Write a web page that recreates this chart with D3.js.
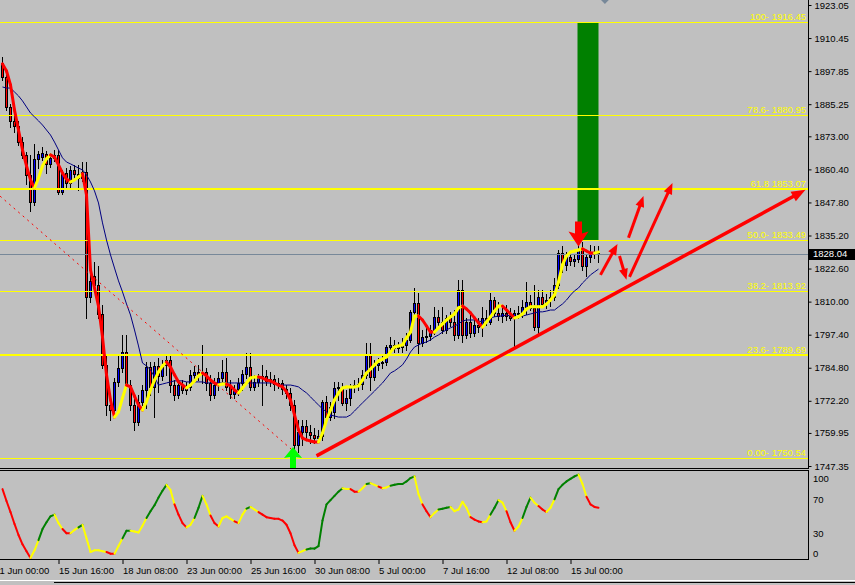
<!DOCTYPE html>
<html>
<head>
<meta charset="utf-8">
<script src="https://d3js.org/d3.v7.min.js"></script>
<style>
html,body{margin:0;padding:0;background:#c0c0c0;overflow:hidden;}
svg{display:block;}
text{font-family:"Liberation Sans",Arial,sans-serif;}
</style>
</head>
<body>
<svg id="chart" width="855" height="585"></svg>
<script>
// ---------- DATA (XAUUSD H4) ----------
const openP = [
1901.0,1895.6,1884.2,1878.9,1876.9,1870.8,1865.9,1858.3,1848.0,1864.4,
1865.1,1866.3,1862.5,1864.8,1865.9,1851.8,1859.0,1855.2,1860.2,1858.7,
1857.1,1859.4,1811.8,1819.8,1816.4,1805.3,1785.9,1770.6,1768.7,1779.4,
1784.7,1790.8,1778.2,1770.6,1764.1,1771.8,1776.3,1785.1,1777.5,1785.5,
1781.7,1785.9,1787.8,1778.2,1774.4,1778.2,1776.3,1777.5,1782.1,1783.2,
1782.4,1783.2,1779.0,1774.4,1778.2,1780.9,1783.2,1777.5,1774.8,1776.7,
1779.0,1782.4,1785.1,1777.5,1779.4,1780.9,1781.7,1779.8,1780.5,1778.6,
1779.0,1776.7,1775.2,1770.6,1755.4,1760.3,1762.6,1760.3,1759.2,1758.0,
1758.8,1771.8,1766.0,1768.0,1777.1,1777.5,1771.4,1773.3,1777.5,1778.2,
1778.6,1782.1,1789.7,1781.3,1785.9,1786.6,1787.0,1792.7,1793.5,1792.3,
1792.7,1793.5,1795.4,1806.1,1809.5,1794.2,1796.5,1796.9,1799.2,1804.2,
1802.3,1799.2,1803.8,1802.3,1797.3,1814.4,1797.3,1802.3,1798.1,1801.1,
1800.3,1803.8,1802.3,1810.6,1805.7,1804.5,1805.7,1804.5,1803.8,1805.7,
1805.3,1808.0,1809.9,1807.6,1800.3,1811.8,1809.1,1810.6,1811.8,1816.4,
1828.5,1824.0,1827.0,1825.5,1826.3,1830.1,1823.6,1827.0,1828.9,1828.5];
const highP = [
1903.2,1896.4,1885.3,1881.1,1878.9,1872.8,1867.0,1865.9,1870.1,1867.4,
1868.9,1867.4,1866.6,1867.8,1867.8,1860.2,1860.9,1861.7,1862.1,1862.1,
1863.2,1863.2,1821.3,1825.1,1823.6,1808.7,1789.7,1774.4,1780.9,1789.7,
1797.3,1797.3,1780.1,1773.3,1774.4,1778.2,1787.0,1787.0,1787.0,1788.5,
1787.8,1789.7,1789.7,1780.1,1780.1,1780.1,1779.4,1784.0,1785.5,1785.9,
1793.5,1784.7,1782.1,1780.9,1783.2,1787.8,1788.5,1780.1,1778.2,1780.9,
1784.0,1790.4,1790.4,1782.1,1782.4,1785.9,1784.0,1783.2,1782.1,1780.9,
1780.1,1778.2,1777.1,1772.5,1764.9,1764.9,1764.9,1763.0,1761.9,1761.1,
1772.5,1774.0,1771.8,1779.4,1779.4,1779.0,1776.3,1778.6,1780.1,1780.9,
1784.0,1794.2,1794.2,1787.8,1788.5,1789.3,1793.5,1796.5,1795.4,1794.6,
1796.2,1798.1,1806.8,1815.2,1813.3,1799.2,1800.0,1801.1,1808.0,1806.8,
1808.0,1804.9,1806.1,1806.8,1818.3,1818.3,1803.8,1804.9,1803.8,1803.8,
1808.0,1806.8,1813.3,1811.8,1809.9,1808.7,1808.7,1807.6,1806.8,1808.3,
1810.6,1817.5,1812.5,1816.4,1814.4,1814.4,1812.9,1814.4,1819.0,1829.7,
1831.2,1828.9,1828.9,1827.8,1832.7,1832.7,1827.8,1831.6,1831.2,1831.2];
const lowP = [
1894.5,1883.0,1876.6,1874.7,1869.7,1864.8,1854.8,1844.6,1846.8,1860.9,
1864.0,1859.0,1861.3,1863.6,1851.0,1851.0,1852.9,1853.3,1856.7,1852.6,
1856.0,1803.8,1809.9,1814.1,1803.8,1784.7,1766.8,1764.9,1767.2,1777.9,
1783.2,1777.1,1768.7,1761.1,1763.0,1770.6,1769.5,1774.4,1766.0,1775.6,
1780.1,1782.1,1775.6,1772.5,1773.3,1775.2,1774.8,1776.3,1780.9,1780.1,
1779.0,1776.3,1772.5,1773.3,1776.3,1779.4,1776.3,1773.3,1773.3,1774.4,
1776.3,1780.9,1776.3,1776.3,1777.9,1770.6,1778.2,1777.9,1776.3,1777.1,
1774.8,1773.3,1768.7,1752.7,1752.7,1755.4,1757.3,1756.1,1756.1,1756.5,
1757.3,1765.3,1764.9,1765.7,1772.5,1770.6,1768.7,1770.6,1775.6,1776.3,
1776.7,1780.9,1776.3,1780.1,1784.0,1784.7,1785.9,1789.7,1790.8,1790.8,
1790.8,1791.6,1794.6,1804.5,1790.4,1793.1,1794.6,1795.4,1797.7,1800.7,
1798.1,1798.1,1800.7,1795.4,1796.2,1794.6,1796.2,1796.5,1796.9,1798.4,
1796.9,1801.1,1801.5,1804.5,1803.0,1802.3,1803.0,1803.0,1792.7,1803.8,
1804.2,1805.3,1806.8,1799.2,1798.1,1808.0,1807.6,1808.3,1810.6,1815.2,
1821.3,1822.1,1824.0,1823.6,1825.1,1822.1,1819.8,1825.1,1826.6,1825.1];
const closeP = [
1895.6,1884.2,1878.9,1876.9,1870.8,1865.9,1858.3,1848.0,1864.4,1866.3,
1866.6,1862.5,1864.8,1865.9,1851.8,1859.0,1855.2,1860.2,1858.7,1857.1,
1859.4,1811.8,1817.9,1816.4,1805.3,1785.9,1770.6,1768.7,1779.4,1784.7,
1790.8,1778.2,1770.6,1764.1,1771.8,1776.3,1785.1,1777.5,1785.5,1781.7,
1785.9,1787.8,1778.2,1774.4,1778.2,1776.3,1777.5,1782.1,1783.2,1782.4,
1783.2,1779.0,1774.4,1778.2,1780.9,1783.2,1777.5,1774.8,1776.7,1779.0,
1782.4,1785.1,1777.5,1779.4,1780.9,1781.7,1779.8,1780.5,1778.6,1779.0,
1776.7,1775.2,1770.6,1755.4,1760.3,1762.6,1760.3,1759.2,1758.0,1758.8,
1771.8,1766.0,1769.9,1777.1,1777.5,1771.4,1773.3,1777.5,1778.2,1778.6,
1782.1,1789.7,1781.3,1785.9,1786.6,1787.0,1792.7,1793.5,1792.3,1792.7,
1793.5,1795.4,1806.1,1809.5,1794.2,1796.5,1796.9,1799.2,1804.2,1802.3,
1799.2,1803.8,1802.3,1797.3,1814.4,1797.3,1802.3,1798.1,1801.1,1800.3,
1803.8,1802.3,1810.6,1805.7,1804.5,1805.7,1804.5,1803.8,1805.7,1805.3,
1808.0,1809.9,1807.6,1800.3,1811.8,1809.1,1810.6,1811.8,1816.4,1828.5,
1824.0,1827.0,1825.5,1826.3,1830.1,1823.6,1827.0,1828.9,1828.5,1828.04];
// fast smoothed MA (yellow rising / red falling)
const fastMA = [
1900.6,1897.9,1892.6,1883.0,1875.4,1867.8,1861.7,1856.4,1853.3,1857.1,
1861.7,1864.4,1865.9,1865.1,1862.1,1859.0,1856.7,1855.6,1856.4,1857.5,
1858.7,1850.6,1822.1,1815.2,1808.3,1796.5,1782.1,1772.5,1766.0,1768.0,
1773.3,1778.2,1777.5,1774.0,1770.6,1768.7,1771.8,1776.3,1780.1,1783.2,
1785.5,1787.0,1785.1,1782.1,1779.4,1778.2,1777.1,1778.2,1779.8,1781.7,
1782.8,1781.7,1780.1,1779.0,1778.2,1778.6,1778.6,1777.9,1776.3,1775.2,
1777.1,1779.0,1780.9,1781.3,1781.3,1780.9,1780.1,1779.8,1779.0,1778.2,
1777.5,1775.6,1772.5,1766.8,1761.1,1758.0,1757.3,1756.9,1756.5,1756.5,
1759.9,1764.9,1768.7,1772.5,1775.2,1777.1,1777.5,1777.5,1777.5,1777.9,
1780.1,1782.8,1784.3,1785.9,1787.4,1788.1,1788.9,1790.8,1792.7,1793.1,
1793.5,1796.2,1798.4,1804.5,1804.5,1803.0,1800.7,1798.4,1798.4,1800.0,
1801.5,1803.0,1804.2,1805.3,1807.6,1808.3,1807.2,1805.7,1803.8,1801.9,
1800.3,1802.3,1804.2,1806.4,1808.3,1808.3,1806.8,1805.3,1803.8,1804.2,
1805.3,1807.2,1808.0,1808.0,1808.0,1808.0,1809.1,1810.6,1812.5,1817.5,
1824.0,1827.4,1828.9,1829.3,1829.7,1830.1,1829.3,1828.5,1828.5,1828.9];
// slow moving average (navy)
const slowMA = [
1891.8,1891.4,1891.4,1889.9,1888.4,1886.5,1884.2,1881.9,1880.4,1878.9,
1877.3,1875.4,1873.5,1870.8,1867.8,1864.8,1863.2,1862.5,1861.7,1860.9,
1860.2,1858.3,1855.6,1852.2,1847.6,1840.0,1833.5,1827.8,1822.8,1817.9,
1813.7,1809.1,1804.9,1799.2,1793.1,1786.6,1785.5,1784.0,1781.3,1778.2,
1778.6,1779.0,1779.4,1779.8,1779.8,1779.8,1779.4,1779.4,1779.4,1779.4,
1779.4,1779.0,1779.0,1779.0,1779.0,1779.0,1779.0,1779.0,1779.0,1779.0,
1779.0,1779.0,1779.0,1779.0,1779.0,1779.0,1779.0,1779.0,1779.0,1778.2,
1778.2,1778.2,1778.2,1777.9,1777.5,1776.3,1775.2,1773.7,1772.1,1770.6,
1769.1,1768.0,1766.8,1766.4,1766.0,1766.0,1766.0,1766.8,1768.3,1769.9,
1771.4,1772.9,1774.4,1775.9,1777.5,1779.0,1780.9,1782.8,1783.6,1784.7,
1785.9,1788.1,1790.8,1792.7,1793.5,1794.2,1794.6,1795.4,1796.5,1797.3,
1798.4,1799.2,1800.0,1800.7,1801.5,1802.6,1803.0,1803.0,1803.0,1802.6,
1802.3,1803.0,1803.8,1804.2,1804.5,1804.5,1804.9,1804.5,1804.2,1804.2,
1804.5,1804.9,1805.3,1805.7,1806.1,1806.1,1806.4,1806.8,1806.8,1808.0,
1809.1,1810.6,1812.5,1814.1,1815.2,1817.1,1818.6,1820.2,1821.3,1822.4];
// oscillator (0-100)
const oscValues = [
82,68,55,41,28,17,9,1,10,22,
35,43,50,52,42,35,30,30,34,37,
40,24,8,10,10,9,8,6,6,15,
24,33,33,32,31,39,48,56,63,72,
80,87,81,64,52,42,37,40,48,60,
74,64,51,42,38,48,50,47,44,42,
52,59,61,58,55,52,49,48,47,47,
45,40,30,16,7,9,11,12,12,15,
45,64,69,74,79,83,82,82,79,79,
83,88,89,87,85,83,84,86,87,88,
88,91,95,97,76,64,56,49,54,58,
59,60,61,56,58,67,60,49,46,44,
43,44,52,60,69,66,56,43,33,38,
48,61,72,66,62,58,55,60,70,82,
87,91,94,97,99,88,73,64,61,60];

const fibPrices = [1916.45,1880.95,1853.07,1833.49,1813.92,1789.69,1750.54];
const fibLabels = ["100- 1916.45","78.6- 1880.95","61.8 1853.07","50.0- 1833.49","38.2- 1813.92","23.6- 1789.69","0.00- 1750.54"];
const fibBold = [false,false,true,false,false,true,false];
const priceTicks = [1923.05,1910.45,1897.85,1885.25,1873.00,1860.40,1847.80,1835.20,1822.60,1810.00,1797.40,1784.80,1772.20,1759.95,1747.35];
const timeTickBars = [-2,14,30,46,62,78,94,110,126,142];
const timeTickLabels = ["11 Jun 00:00","15 Jun 16:00","18 Jun 08:00","23 Jun 00:00","25 Jun 16:00","30 Jun 08:00","5 Jul 00:00","7 Jul 16:00","12 Jul 08:00","15 Jul 00:00"];
const oscTicks = [100,70,30,0];
const lastPrice = 1828.04;
// annotations (bar index, price)
const dottedLine = [[-0.6,1850.2],[73,1752.7]];
const trendLine = [[78.5,1751.2],[200.75,1852.6]];
const arrowStarts = [[149.5,1820.2],[154.25,1827.4],[156.75,1819.4],[156.5,1834.3]];
const arrowEnds   = [[153.75,1832.0],[156.0,1818.3],[167.5,1855.2],[160.25,1850.3]];
const targetBox = {bar0:144, bar1:149, p0:1916.45, p1:1833.49};
const sellSignal = [144, 1831.0];
const buySignal = [73, 1754.6];
const fibAnchor = [150.6, 1925.0];

// ---------- CHART ----------
const W = 855, H = 585, AX = 808;
const svg = d3.select("#chart");
svg.append("rect").attr("width",W).attr("height",H).attr("fill","#c0c0c0");

const x = d3.scaleLinear().domain([0,149]).range([2.5,598.5]);
const y = d3.scaleLinear().domain([1747.35,1923.05]).range([466,5]);
const yo = d3.scaleLinear().domain([0,100]).range([558.8,473.8]);

const defs = svg.append("defs");
defs.append("clipPath").attr("id","cMain").append("rect").attr("x",0).attr("y",0).attr("width",AX).attr("height",468);
defs.append("clipPath").attr("id","cOsc").append("rect").attr("x",0).attr("y",471).attr("width",AX).attr("height",88);

const main = svg.append("g").attr("clip-path","url(#cMain)");
const idx = d3.range(closeP.length);

// target box
main.append("rect")
  .attr("x", x(targetBox.bar0)-1).attr("width", x(targetBox.bar1)-x(targetBox.bar0)+1)
  .attr("y", y(targetBox.p0)).attr("height", y(targetBox.p1)-y(targetBox.p0))
  .attr("fill","#008000");

// candles
main.append("g").selectAll("line").data(idx).join("line")
  .attr("x1",i=>x(i)).attr("x2",i=>x(i))
  .attr("y1",i=>Math.round(y(highP[i]))).attr("y2",i=>Math.round(y(lowP[i]))+1)
  .attr("stroke","#000").attr("stroke-width",1);
const bodies = main.append("g");
idx.forEach(i=>{
  const top = Math.round(y(Math.max(openP[i],closeP[i])));
  const bot = Math.round(y(Math.min(openP[i],closeP[i])));
  const h = Math.max(1, bot-top+1);
  bodies.append("rect").attr("x",x(i)-1.5).attr("width",3).attr("y",top).attr("height",h).attr("fill","#000");
  if (h>2) bodies.append("rect").attr("x",x(i)-0.5).attr("width",1).attr("y",top+1).attr("height",h-2)
    .attr("fill", closeP[i]>=openP[i] ? "#0000ff" : "#ff0000");
});

// fib lines
main.append("g").selectAll("line").data(fibPrices).join("line")
  .attr("x1",0).attr("x2",AX)
  .attr("y1",(d,i)=>Math.round(y(d))+(fibBold[i]?0:0.5)).attr("y2",(d,i)=>Math.round(y(d))+(fibBold[i]?0:0.5))
  .attr("stroke","#ffff00").attr("stroke-width",(d,i)=>fibBold[i]?2:1);

// last price line
main.append("line").attr("x1",0).attr("x2",AX)
  .attr("y1",Math.round(y(lastPrice))+0.5).attr("y2",Math.round(y(lastPrice))+0.5)
  .attr("stroke","#778899").attr("stroke-width",1);

// slow MA
main.append("path").datum(idx)
  .attr("d", d3.line().x(i=>x(i)).y(i=>y(slowMA[i])))
  .attr("fill","none").attr("stroke","#000080").attr("stroke-width",1);

// fast MA, coloured by direction
let prevCol = "#ffff00";
const fastG = main.append("g");
for (let i=1;i<fastMA.length;i++){
  let col = fastMA[i]>fastMA[i-1] ? "#ffff00" : (fastMA[i]<fastMA[i-1] ? "#ff0000" : prevCol);
  prevCol = col;
  fastG.append("line").attr("x1",x(i-1)).attr("y1",y(fastMA[i-1])).attr("x2",x(i)).attr("y2",y(fastMA[i]))
    .attr("stroke",col).attr("stroke-width",3).attr("stroke-linecap","round");
}

// dotted trend line
main.append("line")
  .attr("x1",x(dottedLine[0][0])).attr("y1",y(dottedLine[0][1]))
  .attr("x2",x(dottedLine[1][0])).attr("y2",y(dottedLine[1][1]))
  .attr("stroke","#ff0000").attr("stroke-width",1).attr("stroke-dasharray","2,4");

// arrows
function arrow(g,x1,y1,x2,y2,w,hl,hw,col){
  const dx=x2-x1, dy=y2-y1, L=Math.hypot(dx,dy), ux=dx/L, uy=dy/L;
  const bx=x2-ux*hl, by=y2-uy*hl, px=-uy, py=ux;
  g.append("line").attr("x1",x1).attr("y1",y1).attr("x2",bx+ux).attr("y2",by+uy)
    .attr("stroke",col).attr("stroke-width",w);
  g.append("path").attr("d",`M${x2},${y2}L${bx+px*hw/2},${by+py*hw/2}L${bx-px*hw/2},${by-py*hw/2}Z`).attr("fill",col);
}
const ann = svg.append("g").attr("clip-path","url(#cMain)");
arrow(ann, x(trendLine[0][0]), y(trendLine[0][1]), x(trendLine[1][0]), y(trendLine[1][1]), 3.5, 14, 11, "#ff0000");
arrowStarts.forEach((s,k)=>{
  const e = arrowEnds[k];
  arrow(ann, x(s[0]), y(s[1]), x(e[0]), y(e[1]), 3, 11, 9, "#ff0000");
});

// sell arrow (down)
{
  const cx = x(sellSignal[0]), ty = y(sellSignal[1]);
  ann.append("path").attr("fill","#ff0000")
    .attr("d",`M${cx-3.5},${ty-25}H${cx+3.5}V${ty-13}L${cx+10},${ty-15}L${cx},${ty}L${cx-10},${ty-15}L${cx-3.5},${ty-13}Z`);
}
// buy arrow (up)
{
  const cx = x(buySignal[0])-1.5, ty = y(buySignal[1]);
  ann.append("path").attr("fill","#00ff00")
    .attr("d",`M${cx},${ty}L${cx+9},${ty+11}L${cx+3},${ty+10}V${ty+22}H${cx-3}V${ty+10}L${cx-9},${ty+11}Z`);
}
// fib anchor diamond
{
  const cx = x(fibAnchor[0]), cy = y(fibAnchor[1]);
  ann.append("path").attr("fill","#778899").attr("d",`M${cx},${cy-4}L${cx+4},${cy}L${cx},${cy+4}L${cx-4},${cy}Z`);
}

// fib labels
svg.append("g").selectAll("text").data(fibPrices).join("text")
  .attr("x",806).attr("y",d=>Math.round(y(d))-2).attr("text-anchor","end")
  .attr("font-size",9.5).attr("fill","#ffff00").text((d,i)=>fibLabels[i]);

// ---------- oscillator ----------
const osc = svg.append("g").attr("clip-path","url(#cOsc)");
const dirs = [0];
for (let i=1;i<oscValues.length;i++){
  const d = oscValues[i]>oscValues[i-1]?1:(oscValues[i]<oscValues[i-1]?-1:dirs[i-1]);
  dirs.push(d);
}
for (let i=1;i<oscValues.length;i++){
  const turn = (i>=2 && dirs[i]!==dirs[i-1]) || (i>=3 && dirs[i]!==dirs[i-2]);
  const col = turn ? "#ffff00" : (dirs[i]>0 ? "#008000" : "#ff0000");
  osc.append("line").attr("x1",x(i-1)).attr("y1",yo(oscValues[i-1])).attr("x2",x(i)).attr("y2",yo(oscValues[i]))
    .attr("stroke",col).attr("stroke-width",2).attr("stroke-linecap","round");
}

// ---------- frames ----------
const fr = svg.append("g").attr("stroke","#000").attr("stroke-width",1);
fr.append("line").attr("x1",0).attr("x2",AX+1).attr("y1",468.5).attr("y2",468.5);
fr.append("line").attr("x1",0).attr("x2",AX+1).attr("y1",470.5).attr("y2",470.5);
fr.append("line").attr("x1",0).attr("x2",AX+1).attr("y1",559.5).attr("y2",559.5);
fr.append("line").attr("x1",AX+0.5).attr("x2",AX+0.5).attr("y1",0).attr("y2",469);
fr.append("line").attr("x1",AX+0.5).attr("x2",AX+0.5).attr("y1",470).attr("y2",560);
svg.append("rect").attr("x",0).attr("y",580).attr("width",W).attr("height",1).attr("fill","#ffffff");
svg.append("rect").attr("x",54).attr("y",582).attr("width",W-54).attr("height",1).attr("fill","#000");

// ---------- price axis ----------
const yAxis = d3.axisRight(y).tickValues(priceTicks).tickFormat(d3.format(".2f"))
  .tickSizeInner(3).tickSizeOuter(0).tickPadding(3);
const ya = svg.append("g").attr("transform",`translate(${AX+0.5},0)`).call(yAxis);
ya.select(".domain").remove();
ya.selectAll("text").attr("font-size",9.5).attr("fill","#000").attr("font-family","Liberation Sans, Arial, sans-serif");
ya.selectAll("line").attr("stroke","#000");

// last price label
{
  const ly = Math.round(y(lastPrice));
  svg.append("rect").attr("x",AX+1).attr("y",ly-5).attr("width",W-AX-1).attr("height",11).attr("fill","#000");
  svg.append("text").attr("x",AX+5).attr("y",ly).attr("dy","0.35em").attr("font-size",9.5)
    .attr("fill","#fff").text(d3.format(".2f")(lastPrice));
}

// oscillator axis labels
svg.append("g").selectAll("text").data(oscTicks).join("text")
  .attr("x",AX+5).attr("y",d=>Math.min(553.3,Math.max(478.7,yo(d)))).attr("dy","0.35em")
  .attr("font-size",9.5).attr("fill","#000").text(d=>d);

// ---------- time axis ----------
const xAxis = d3.axisBottom(x).tickValues(timeTickBars).tickFormat((d,i)=>timeTickLabels[i])
  .tickSizeInner(4).tickSizeOuter(0).tickPadding(3);
const xa = svg.append("g").attr("transform","translate(0,560)").call(xAxis);
xa.select(".domain").remove();
xa.selectAll("line").attr("stroke","#000");
xa.selectAll("text").attr("text-anchor","start").attr("dx",0).attr("font-size",9.5).attr("fill","#000")
  .attr("font-family","Liberation Sans, Arial, sans-serif");
</script>
</body>
</html>
